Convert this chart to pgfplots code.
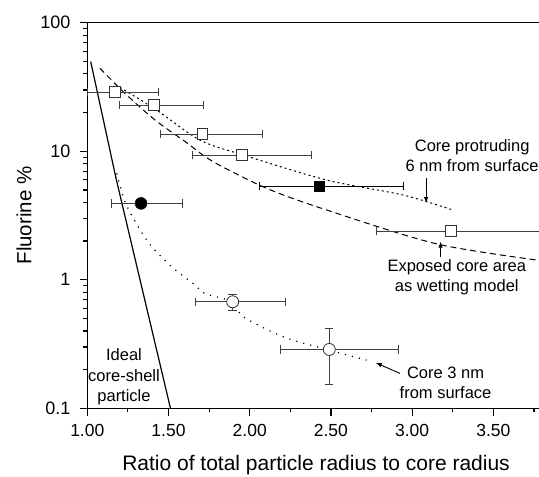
\documentclass[border=0pt]{standalone}
\usepackage{fontspec}
\setmainfont{Liberation Sans}
\usepackage{pgfplots}
\pgfplotsset{compat=1.18}
\usetikzlibrary{calc,arrows.meta}
\begin{document}
\begin{tikzpicture}
\begin{axis}[
  scale only axis,
  clip=false,
  width=457.5bp, height=385.6bp,
  xmin=1, xmax=3.817,
  ymin=0.1, ymax=100, ymode=log,
  xtick={1,1.5,2,2.5,3,3.5},
  xticklabels={1.00,1.50,2.00,2.50,3.00,3.50},
  minor xtick={1.25,1.75,2.25,2.75,3.25,3.75},
  ytick={0.1,1,10,100}, yticklabels={0.1,1,10,100},
  minor ytick={0.2,0.3,0.4,0.5,0.6,0.7,0.8,0.9,2,3,4,5,6,7,8,9,20,30,40,50,60,70,80,90},
  tick align=outside, tick pos=left,
  major tick length=7.5pt, minor tick length=4pt,
  tick style={line width=1.2pt, black},
  axis line style={line width=1.5pt},
  /pgf/number format/assume math mode=true,
  xticklabel style={font=\fontsize{17.5bp}{21bp}\selectfont, yshift=-5pt},
  yticklabel style={font=\fontsize{18bp}{21bp}\selectfont, xshift=-6pt},
  xlabel={Ratio of total particle radius to core radius},
  ylabel={Fluorine \%},
  x label style={at={(axis description cs:0.5,0)}, anchor=center, yshift=-57bp, font=\fontsize{21bp}{24bp}\selectfont},
  y label style={at={(axis description cs:-0.138,0.5)}, anchor=center, font=\fontsize{20.5bp}{24bp}\selectfont},
]
\coordinate (O) at (rel axis cs:0,0);
% tick marks (outside, bottom and left)
\pgfplotsinvokeforeach{1,1.5,2,2.5,3,3.5}{\draw[line width=1.2pt] (axis cs:#1,0.1) -- ([yshift=-7.5pt]axis cs:#1,0.1);}
\pgfplotsinvokeforeach{1.25,1.75,2.25,2.75,3.25,3.75}{\draw[line width=1.2pt] (axis cs:#1,0.1) -- ([yshift=-4pt]axis cs:#1,0.1);}
\pgfplotsinvokeforeach{0.1,1,10,100}{\draw[line width=1.2pt] (axis cs:1,#1) -- ([xshift=-7.5pt]axis cs:1,#1);}
\pgfplotsinvokeforeach{0.2,0.3,0.4,0.5,0.6,0.7,0.8,0.9,2,3,4,5,6,7,8,9,20,30,40,50,60,70,80,90}{\draw[line width=1.2pt] (axis cs:1,#1) -- ([xshift=-4pt]axis cs:1,#1);}
% ideal core-shell
\addplot[black, line width=1.2bp] coordinates {
 (1.021,49.8) (1.177,6.15) (1.325,0.995) (1.512,0.1)};
% exposed core area (dashed)
\addplot[black, line width=1bp, smooth, dash pattern=on 6bp off 4bp] coordinates {
 (1.078,44.2) (1.232,28.2) (1.417,17.5) (1.602,11.9) (1.776,8.28) (2.105,5.14) (2.474,3.49) (3.161,1.89) (3.85,1.38)};
% core protruding 6 nm (short dashes)
\addplot[black, line width=1bp, smooth, dash pattern=on 2bp off 3bp] coordinates {
 (1.201,31.4) (1.427,20.9) (1.694,12.2) (1.961,9.34) (2.474,5.97) (2.946,4.56) (3.254,3.48)};
% core 3 nm (sparse dots)
\addplot[black, line width=1.2bp, smooth, dash pattern=on 1.2bp off 6bp] coordinates {
 (1.181,6.73) (1.232,4.05) (1.314,2.58) (1.397,1.81) (1.520,1.26) (1.663,0.91) (1.725,0.78) (1.895,0.674) (1.961,0.515) (2.207,0.36) (2.453,0.292) (2.720,0.237)};
% open squares
\addplot[only marks, mark=square*, mark size=5.3bp, mark options={fill=white, draw=black!80, line width=0.8bp},
  error bars/.cd, x dir=both, x explicit,
  error bar style={line width=0.9bp, black!75},
  error mark options={rotate=90, mark size=4.2bp, line width=0.9bp, black!75}]
 table[x=x, y=y, x error plus=xp, x error minus=xm] {
x y xm xp
1.171 28.9 0.171 0.265
1.411 22.9 0.214 0.303
1.708 13.6 0.256 0.370
1.951 9.33 0.304 0.431
3.240 2.39 0.458 0.65
};
% filled square
\addplot[only marks, mark=square*, mark size=5.3bp, mark options={fill=black, draw=black},
  error bars/.cd, x dir=both, x explicit,
  error bar style={line width=0.9bp, black},
  error mark options={rotate=90, mark size=4.2bp, line width=0.9bp, black}]
 table[x=x, y=y, x error plus=xp, x error minus=xm] {
x y xm xp
2.429 5.36 0.370 0.517
};
% filled circle
\addplot[only marks, mark=*, mark size=6bp, mark options={fill=black, draw=black},
  error bars/.cd, x dir=both, x explicit,
  error bar style={line width=0.9bp, black!75},
  error mark options={rotate=90, mark size=4.2bp, line width=0.9bp, black!75}]
 table[x=x, y=y, x error plus=xp, x error minus=xm] {
x y xm xp
1.331 3.93 0.181 0.254
};
% open circles
\addplot[only marks, mark=*, mark size=6bp, mark options={fill=white, draw=black!80, line width=0.8bp},
  error bars/.cd, x dir=both, x explicit, y dir=both, y explicit,
  error bar style={line width=0.9bp, black!75},
  error mark options={rotate=90, mark size=4.2bp, line width=0.9bp, black!75}]
 table[x=x, y=y, x error plus=xp, x error minus=xm, y error plus=yp, y error minus=ym] {
x y xm xp ym yp
1.895 0.674 0.231 0.322 0.093 0.095
2.490 0.287 0.302 0.425 0.134 0.132
};
% annotations
\node[align=center, font=\fontsize{16.5bp}{20.5bp}\selectfont] at (axis cs:1.226,0.176) {Ideal\\core-shell\\particle};
\node[align=center, font=\fontsize{16.5bp}{20.5bp}\selectfont] at (axis cs:3.37,9.27) {Core protruding\\6 nm from surface};
\node[align=center, font=\fontsize{16.5bp}{20.5bp}\selectfont] at (axis cs:3.275,1.05) {Exposed core area\\as wetting model};
\node[align=center, font=\fontsize{16.5bp}{20.5bp}\selectfont] at (axis cs:3.206,0.158) {Core 3 nm\\from surface};
\draw[line width=0.9bp, -{Latex[length=6bp,width=4.5bp]}] (axis cs:3.086,6.15) -- (axis cs:3.086,3.95);
\draw[line width=0.9bp, -{Latex[length=6bp,width=4.5bp]}] (axis cs:3.175,1.50) -- (axis cs:3.175,1.98);
\draw[line width=0.9bp, -{Latex[length=6bp,width=4.5bp]}] (axis cs:2.925,0.187) -- (axis cs:2.776,0.226);
\end{axis}
\pgfresetboundingbox
\path[use as bounding box] ($(O)+(-87.3bp,-68.7bp)$) rectangle ($(O)+(451.7bp,408.3bp)$);
\end{tikzpicture}
\end{document}
